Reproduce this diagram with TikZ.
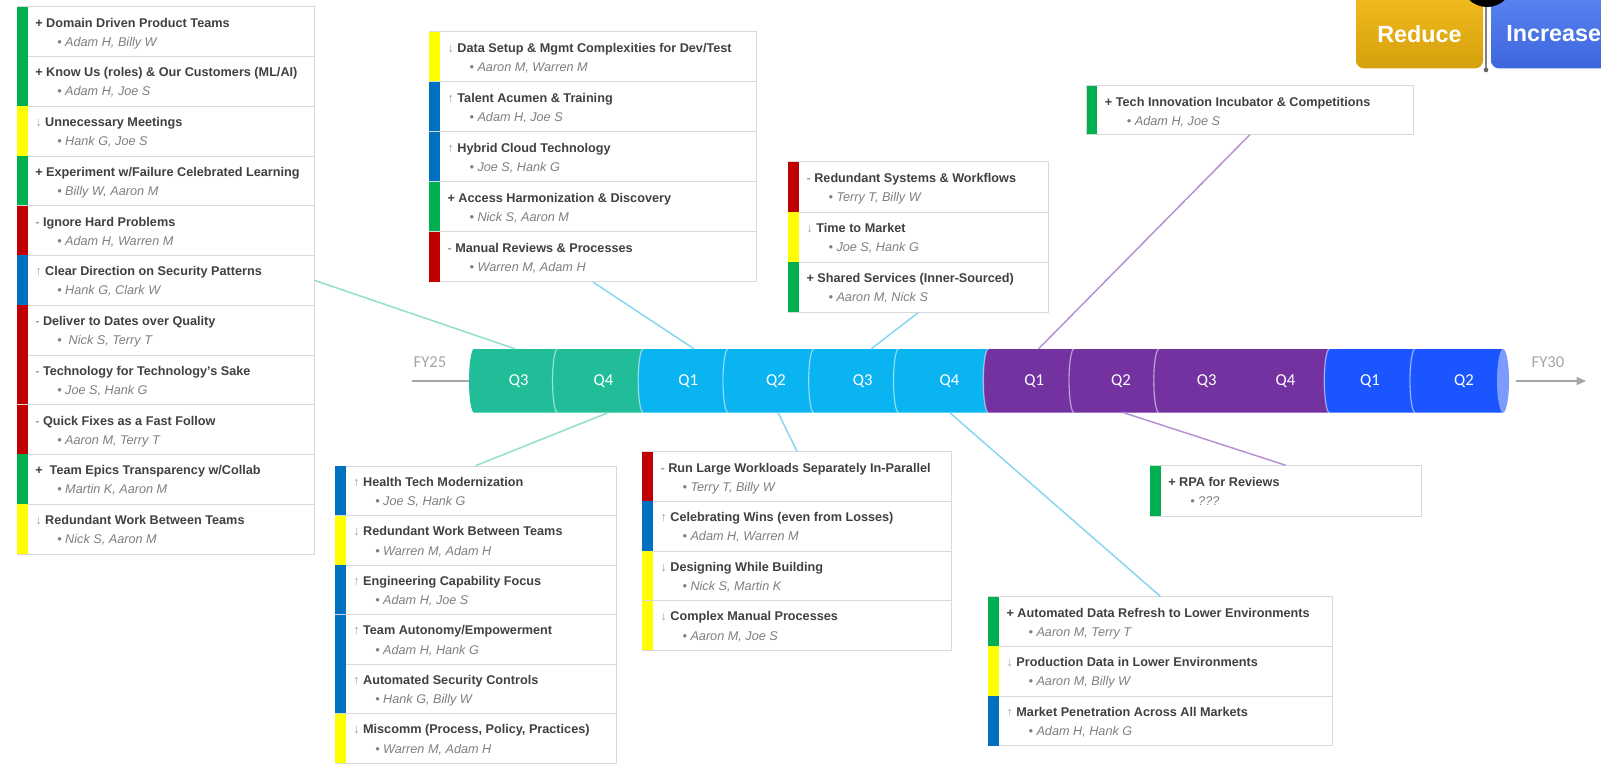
\documentclass[tikz,border=0pt]{standalone}
\usepackage{fontspec}
\setmainfont{Liberation Sans}
\newfontfamily\qfont{Carlito}
\usetikzlibrary{fit,arrows.meta}

\definecolor{cardline}{HTML}{D9D9D9}
\definecolor{headgray}{HTML}{404040}
\definecolor{namegray}{HTML}{7F7F7F}
\definecolor{symgray}{HTML}{A0A0A0}
\definecolor{barGreen}{HTML}{00B050}
\definecolor{barYellow}{HTML}{FFFF00}
\definecolor{barRed}{HTML}{C00000}
\definecolor{barBlue}{HTML}{0070C0}
\definecolor{segTeal}{HTML}{21BD98}
\definecolor{segCyan}{HTML}{0AB4F0}
\definecolor{segPurple}{HTML}{7332A0}
\definecolor{segBlue}{HTML}{1A55FF}
\definecolor{capBlue}{HTML}{7B9BFF}
\definecolor{linkTeal}{HTML}{8EDFCB}
\definecolor{linkCyan}{HTML}{86D6F2}
\definecolor{linkPurple}{HTML}{B591D4}
\definecolor{fygray}{HTML}{A6A6A6}
\definecolor{goldTop}{HTML}{F5BD1F}
\definecolor{goldBottom}{HTML}{D4A00C}
\definecolor{blueTop}{HTML}{5B86F2}
\definecolor{blueBottom}{HTML}{3D66DD}

\tikzset{
  cardframe/.style={draw=cardline, line width=0.6pt, fill=white, inner sep=0pt},
  headtext/.style={anchor=base west, inner sep=0pt, text=headgray,
    font=\fontsize{9.5}{11}\selectfont\bfseries},
  nametext/.style={anchor=base west, inner sep=0pt, text=namegray,
    font=\fontsize{9.5}{11}\selectfont\itshape},
  link/.style={line width=1.1pt},
  qlabel/.style={text=white, inner sep=0pt, font=\qfont\fontsize{12.5}{14}\selectfont},
  fylabel/.style={text=fygray, inner sep=0pt, font=\qfont\fontsize{12.5}{14}\selectfont},
  btntext/.style={text=white, inner sep=0pt, font=\fontsize{17.5}{20}\selectfont\bfseries},
  divider/.style={draw=white, draw opacity=0.45, line width=1pt},
}

% markers in front of each heading
\newcommand\symAdd{\textcolor{headgray}{+}}
\newcommand\symCut{\textcolor{symgray}{-}}
\newcommand\symUp{\textcolor{symgray}{\mdseries ↑}}
\newcommand\symDown{\textcolor{symgray}{\mdseries ↓}}

% one row of a card: name, left x, top y, right x, height, bar colour, marker, heading, names
\newcommand{\cardrow}[9]{%
  \coordinate (#1-nw) at (#2,#3);
  \coordinate (#1-se) at (#4,#3+#5);
  \node[cardframe, fit=(#1-nw)(#1-se)] (#1) {};
  \fill[#6] (#2,#3) rectangle (#2+10.7,#3+#5);
  \node[headtext] (#1-head) at (#2+18,#3+20.3) {#7 #8};
  \node[nametext] (#1-names) at (#2+40,#3+39.5) {•\ #9};
}

% one stretch of the timeline cylinder, from x #1 to x #2
\newcommand{\cylseg}[3]{%
  \fill[#3] (#1,349) arc[start angle=270,end angle=90,x radius=5,y radius=31.75]
    -- (#2,412.5) arc[start angle=90,end angle=270,x radius=5,y radius=31.75] -- cycle;}
\newcommand{\cyldiv}[1]{%
  \draw[divider] (#1,349) arc[start angle=270,end angle=90,x radius=5,y radius=31.75];}

\begin{document}
\begin{tikzpicture}[x=0.75pt,y=-0.75pt]
\fill[white] (0,0) rectangle (1601,765);
\useasboundingbox (0,0) rectangle (1601,765);

% ---------- timeline ----------
\coordinate (fyStart) at (411.5,381);
\coordinate (cylLeft) at (474,381);
\coordinate (cylRight) at (1516,381);
\coordinate (fyEnd) at (1586,381);
\draw[fygray, line width=1pt] (fyStart) -- (cylLeft);
\draw[fygray, line width=1pt, -{Triangle[length=7pt,width=6pt]}] (cylRight) -- (fyEnd);
\node[fylabel] (fy25) at (430,362) {FY25};
\node[fylabel] (fy30) at (1548,362) {FY30};

\cylseg{474}{557.5}{segTeal}
\cylseg{557.5}{643.2}{segTeal}
\cylseg{643.2}{728}{segCyan}
\cylseg{728}{813.7}{segCyan}
\cylseg{813.7}{898.5}{segCyan}
\cylseg{898.5}{988.3}{segCyan}
\cylseg{988.3}{1074}{segPurple}
\cylseg{1074}{1158.8}{segPurple}
\cylseg{1158.8}{1329.3}{segPurple}
\cylseg{1329.3}{1415}{segBlue}
\cylseg{1415}{1503}{segBlue}
\fill[capBlue] (1503,380.75) ellipse[x radius=6, y radius=31.75];
\foreach \xd in {557.5,643.2,728,813.7,898.5,988.3,1074,1158.8,1329.3,1415}{\cyldiv{\xd}}

\node[qlabel] (q1) at (518.7,381) {Q3};
\node[qlabel] (q2) at (603.4,381) {Q4};
\node[qlabel] (q3) at (688.2,381) {Q1};
\node[qlabel] (q4) at (776,381) {Q2};
\node[qlabel] (q5) at (862.7,381) {Q3};
\node[qlabel] (q6) at (949.5,381) {Q4};
\node[qlabel] (q7) at (1034.3,381) {Q1};
\node[qlabel] (q8) at (1121,381) {Q2};
\node[qlabel] (q9) at (1206.8,381) {Q3};
\node[qlabel] (q10) at (1285.4,381) {Q4};
\node[qlabel] (q11) at (1370,381) {Q1};
\node[qlabel] (q12) at (1464,381) {Q2};

% attachment points on the cylinder
\coordinate (c1) at (515.6,349);
\coordinate (c2) at (694.3,349);
\coordinate (c3) at (871,349);
\coordinate (c4) at (1038.4,349);
\coordinate (c5) at (608.5,412.5);
\coordinate (c6) at (778,412.5);
\coordinate (c7) at (949.5,412.5);
\coordinate (c8) at (1123,412.5);

% ---------- cards ----------
% left column
\cardrow{L1}{17}{6.7}{314}{49.75}{barGreen}{\symAdd}{Domain Driven Product Teams}{Adam H, Billy W}
\cardrow{L2}{17}{56.45}{314}{49.75}{barGreen}{\symAdd}{Know Us (roles) \& Our Customers (ML/AI)}{Adam H, Joe S}
\cardrow{L3}{17}{106.2}{314}{49.75}{barYellow}{\symDown}{Unnecessary Meetings}{Hank G, Joe S}
\cardrow{L4}{17}{155.95}{314}{49.75}{barGreen}{\symAdd}{Experiment w/Failure Celebrated Learning}{Billy W, Aaron M}
\cardrow{L5}{17}{205.7}{314}{49.75}{barRed}{\symCut}{Ignore Hard Problems}{Adam H, Warren M}
\cardrow{L6}{17}{255.45}{314}{49.75}{barBlue}{\symUp}{Clear Direction on Security Patterns}{Hank G, Clark W}
\cardrow{L7}{17}{305.2}{314}{49.75}{barRed}{\symCut}{Deliver to Dates over Quality}{\ Nick S, Terry T}
\cardrow{L8}{17}{354.95}{314}{49.75}{barRed}{\symCut}{Technology for Technology’s Sake}{Joe S, Hank G}
\cardrow{L9}{17}{404.7}{314}{49.75}{barRed}{\symCut}{Quick Fixes as a Fast Follow}{Aaron M, Terry T}
\cardrow{L10}{17}{454.45}{314}{49.75}{barGreen}{\symAdd}{\ Team Epics Transparency w/Collab}{Martin K, Aaron M}
\cardrow{L11}{17}{504.2}{314}{49.75}{barYellow}{\symDown}{Redundant Work Between Teams}{Nick S, Aaron M}

% upper middle
\cardrow{M1}{429.3}{31.7}{756.7}{50}{barYellow}{\symDown}{Data Setup \& Mgmt Complexities for Dev/Test}{Aaron M, Warren M}
\cardrow{M2}{429.3}{81.7}{756.7}{50}{barBlue}{\symUp}{Talent Acumen \& Training}{Adam H, Joe S}
\cardrow{M3}{429.3}{131.7}{756.7}{50}{barBlue}{\symUp}{Hybrid Cloud Technology}{Joe S, Hank G}
\cardrow{M4}{429.3}{181.7}{756.7}{50}{barGreen}{\symAdd}{Access Harmonization \& Discovery}{Nick S, Aaron M}
\cardrow{M5}{429.3}{231.7}{756.7}{50}{barRed}{\symCut}{Manual Reviews \& Processes}{Warren M, Adam H}

% upper right of middle
\cardrow{R1}{788.3}{161.7}{1048}{50.2}{barRed}{\symCut}{Redundant Systems \& Workflows}{Terry T, Billy W}
\cardrow{R2}{788.3}{211.9}{1048}{50.2}{barYellow}{\symDown}{Time to Market}{Joe S, Hank G}
\cardrow{R3}{788.3}{262.1}{1048}{50.2}{barGreen}{\symAdd}{Shared Services (Inner-Sourced)}{Aaron M, Nick S}

% top right
\cardrow{T1}{1086.7}{85.7}{1413}{48.6}{barGreen}{\symAdd}{Tech Innovation Incubator \& Competitions}{Adam H, Joe S}

% lower cards
\cardrow{B1}{335}{466}{616.7}{49.5}{barBlue}{\symUp}{Health Tech Modernization}{Joe S, Hank G}
\cardrow{B2}{335}{515.5}{616.7}{49.5}{barYellow}{\symDown}{Redundant Work Between Teams}{Warren M, Adam H}
\cardrow{B3}{335}{565}{616.7}{49.5}{barBlue}{\symUp}{Engineering Capability Focus}{Adam H, Joe S}
\cardrow{B4}{335}{614.5}{616.7}{49.5}{barBlue}{\symUp}{Team Autonomy/Empowerment}{Adam H, Hank G}
\cardrow{B5}{335}{664}{616.7}{49.5}{barBlue}{\symUp}{Automated Security Controls}{Hank G, Billy W}
\cardrow{B6}{335}{713.5}{616.7}{49.5}{barYellow}{\symDown}{Miscomm (Process, Policy, Practices)}{Warren M, Adam H}

\cardrow{C1}{642.3}{451.7}{951.7}{49.6}{barRed}{\symCut}{Run Large Workloads Separately In-Parallel}{Terry T, Billy W}
\cardrow{C2}{642.3}{501.3}{951.7}{49.6}{barBlue}{\symUp}{Celebrating Wins (even from Losses)}{Adam H, Warren M}
\cardrow{C3}{642.3}{550.9}{951.7}{49.6}{barYellow}{\symDown}{Designing While Building}{Nick S, Martin K}
\cardrow{C4}{642.3}{600.5}{951.7}{49.6}{barYellow}{\symDown}{Complex Manual Processes}{Aaron M, Joe S}

\cardrow{D1}{988.3}{596.7}{1332.3}{49.7}{barGreen}{\symAdd}{Automated Data Refresh to Lower Environments}{Aaron M, Terry T}
\cardrow{D2}{988.3}{646.4}{1332.3}{49.7}{barYellow}{\symDown}{Production Data in Lower Environments}{Aaron M, Billy W}
\cardrow{D3}{988.3}{696.1}{1332.3}{49.7}{barBlue}{\symUp}{Market Penetration Across All Markets}{Adam H, Hank G}

\cardrow{E1}{1150}{465.7}{1421.7}{50.3}{barGreen}{\symAdd}{RPA for Reviews}{???}

% ---------- connectors ----------
\draw[link, linkTeal] (L6.east) -- (c1);
\draw[link, linkCyan] (M5.south) -- (c2);
\draw[link, linkCyan] (R3.south) -- (c3);
\draw[link, linkPurple] (T1.south) -- (c4);
\draw[link, linkTeal] (c5) -- (B1.north);
\draw[link, linkCyan] (c6) -- (C1.north);
\draw[link, linkCyan] (c7) -- (D1.north);
\draw[link, linkPurple] (c8) -- (E1.north);

% ---------- toggle buttons ----------
\shade[top color=goldTop, bottom color=goldBottom, rounded corners=6pt]
  (1356,-12) rectangle (1483,68.4);
\shade[top color=blueTop, bottom color=blueBottom, rounded corners=6pt]
  (1491,-12) rectangle (1640,68.4);
\node[btntext] (reduce) at (1419.5,34) {Reduce};
\node[btntext, anchor=west] (increase) at (1506,34) {Increase};
\coordinate (sliderTop) at (1486,0);
\coordinate (sliderEnd) at (1486,70);
\draw[gray, line width=1pt] (sliderTop) -- (sliderEnd);
\fill[gray!80!black] (sliderEnd) circle[radius=2.3];
\fill[black] (1487,-19) circle[radius=26];
\end{tikzpicture}
\end{document}
